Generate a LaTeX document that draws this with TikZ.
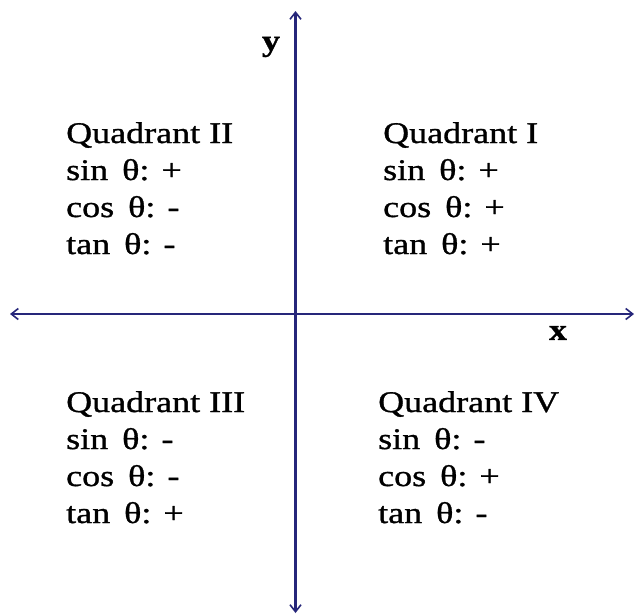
\documentclass[tikz,border=0pt]{standalone}
\usepackage{fontspec}
\setmainfont{Liberation Serif}[FakeStretch=1.2,FakeBold=1.0]
\usetikzlibrary{arrows.meta}
\definecolor{axisblue}{RGB}{38,38,122}
\begin{document}
\begin{tikzpicture}[x=1pt,y=-1pt,
  axis/.style={draw=axisblue,line width=2.1pt,
    {Straight Barb[length=7pt,width=11pt,line width=1.6pt]}-{Straight Barb[length=7pt,width=11pt,line width=1.6pt]}},
  qtext/.style={anchor=base west,inner sep=0pt,font=\fontsize{30}{37}\selectfont},
  alabel/.style={inner sep=0pt,font=\fontsize{30}{37}\selectfont\bfseries}]
\useasboundingbox (0,0) rectangle (636,614);
\fill[white] (0,0) rectangle (636,614);
\coordinate (top) at (295.5,11);
\coordinate (bot) at (295.5,613);
\coordinate (lft) at (10,314);
\coordinate (rgt) at (634,314);
\draw[axis] (lft) -- (rgt);
\draw[axis] (bot) -- (top);
\node[alabel] (ylab) at (271,47) {y};
\node[alabel] (xlab) at (558,333) {x};
% Quadrant II
\node[qtext] (q2a) at (66,143) {Quadrant II};
\node[qtext] (q2b) at (66,180) {sin\, θ: +};
\node[qtext] (q2c) at (66,217) {cos\, θ: -};
\node[qtext] (q2d) at (66,254) {tan\, θ: -};
% Quadrant I
\node[qtext] (q1a) at (383,143) {Quadrant I};
\node[qtext] (q1b) at (383,180) {sin\, θ: +};
\node[qtext] (q1c) at (383,217) {cos\, θ: +};
\node[qtext] (q1d) at (383,254) {tan\, θ: +};
% Quadrant III
\node[qtext] (q3a) at (66,412) {Quadrant III};
\node[qtext] (q3b) at (66,449) {sin\, θ: -};
\node[qtext] (q3c) at (66,486) {cos\, θ: -};
\node[qtext] (q3d) at (66,523) {tan\, θ: +};
% Quadrant IV
\node[qtext] (q4a) at (378,412) {Quadrant IV};
\node[qtext] (q4b) at (378,449) {sin\, θ: -};
\node[qtext] (q4c) at (378,486) {cos\, θ: +};
\node[qtext] (q4d) at (378,523) {tan\, θ: -};
\end{tikzpicture}
\end{document}
